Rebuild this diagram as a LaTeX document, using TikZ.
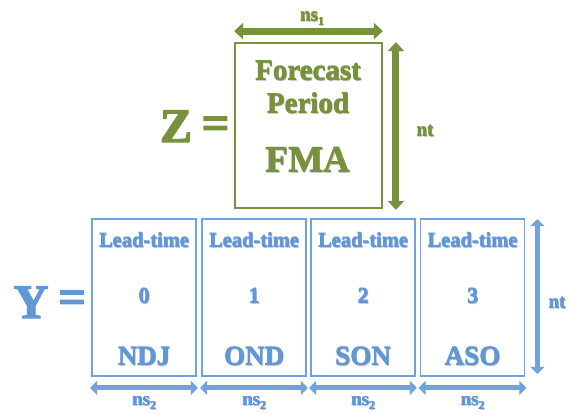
\documentclass[tikz,border=0pt]{standalone}
\usepackage{fontspec}
\setmainfont{Liberation Serif}
\newfontfamily\heavyfont{Liberation Serif}[BoldFeatures={FakeBold=3}]
\usetikzlibrary{arrows.meta,calc}
\definecolor{zgreen}{RGB}{119,146,60}
\definecolor{yblue}{RGB}{98,151,215}
\definecolor{yframe}{RGB}{112,163,222}
\definecolor{shade}{RGB}{150,150,150}
\newcommand{\fs}[1]{\fontsize{#1}{#1}\selectfont\bfseries}
\newcommand{\fh}[1]{\fontsize{#1}{#1}\heavyfont\bfseries}
% heavy text: soft grey drop shadow, a thickening copy, then the text itself
\newcommand{\shd}[1]{%
  \makebox[0pt][l]{\kern1pt\raisebox{-1pt}{\color{shade!50}#1}}%
  \makebox[0pt][l]{\kern0.55pt#1}%
  \makebox[0pt][l]{\raisebox{0.3pt}{#1}}%
  #1}
\tikzset{
  txt/.style={inner sep=0pt, outer sep=0pt, anchor=base},
  gbox/.style={draw=zgreen, line width=1.8pt, inner sep=0pt},
  bbox/.style={draw=yframe, line width=1.8pt, inner sep=0pt},
  garrow/.style={draw=zgreen, line width=7pt,
    {Triangle[length=9pt,width=16pt]}-{Triangle[length=9pt,width=16pt]}},
  barrow/.style={draw=yframe, line width=5pt,
    {Triangle[length=7pt,width=14pt]}-{Triangle[length=7pt,width=14pt]}},
  gtext/.style={txt, text=zgreen},
  btext/.style={txt, text=yblue},
}
\begin{document}
\begin{tikzpicture}[x=1pt,y=-1pt]
\useasboundingbox (0,0) rectangle (571,413);

% ---------- Z = forecast period ----------
\node[gbox, minimum width=147pt, minimum height=165pt] (zbox) at (308.5,125.5) {};
\node[gtext] (zlet) at (176,142) {\fh{48}Z};
\node[gtext, anchor=center] (zeq) at (215.5,128) {\fh{48}=};
\node[gtext] (fc) at (308,80) {\fs{29}\shd{Forecast}};
\node[gtext] (pd) at (308,113) {\fs{29}\shd{Period}};
\node[gtext] (fma) at (308,172) {\fs{37}\shd{FMA}};

\coordinate (zh1) at ($(zbox.north west)+(0,-11)$);
\coordinate (zh2) at ($(zbox.north east)+(0,-11)$);
\draw[garrow] (zh1) -- (zh2);
\node[gtext] (ns1) at (312,21) {\fs{19}\shd{ns\raisebox{-0.25em}{\fontsize{12}{12}\selectfont 1}}};

\coordinate (zv1) at ($(zbox.north east)+(13,0)$);
\coordinate (zv2) at ($(zbox.south east)+(13,1)$);
\draw[garrow] (zv1) -- (zv2);
\node[gtext] (znt) at (425,136) {\fs{19}\shd{nt}};

% ---------- Y = lead-time blocks ----------
\node[btext] (ylet) at (31,318) {\fh{48}Y};
\node[btext, anchor=center] (yeq) at (72,302) {\fh{48}=};

\foreach \i/\cx/\d/\m in {0/144/0/NDJ, 1/254/1/OND, 2/363/2/SON, 3/472.5/3/ASO} {
  \node[bbox, minimum width=104pt, minimum height=157pt] (b\i) at (\cx,297.5) {};
  \node[btext] (lt\i) at (\cx,247) {\fs{20.5}\shd{Lead-time}};
  \node[btext] (dg\i) at (\cx,303) {\fs{22}\shd{\d}};
  \node[btext] (mn\i) at (\cx,365) {\fs{27}\shd{\m}};
  \coordinate (ba\i) at ($(b\i.south west)+(-1,11)$);
  \coordinate (bb\i) at ($(b\i.south east)+(1,11)$);
  \draw[barrow] (ba\i) -- (bb\i);
  \node[btext] (ns\i) at (\cx,405.5) {\fs{19}\shd{ns\raisebox{-0.22em}{\fontsize{12}{12}\selectfont 2}}};
}

\coordinate (yv1) at ($(b3.north east)+(12,1)$);
\coordinate (yv2) at ($(b3.south east)+(12,-3)$);
\draw[barrow] (yv1) -- (yv2);
\node[btext] (ynt) at (557,308) {\fs{19}\shd{nt}};
\end{tikzpicture}
\end{document}
